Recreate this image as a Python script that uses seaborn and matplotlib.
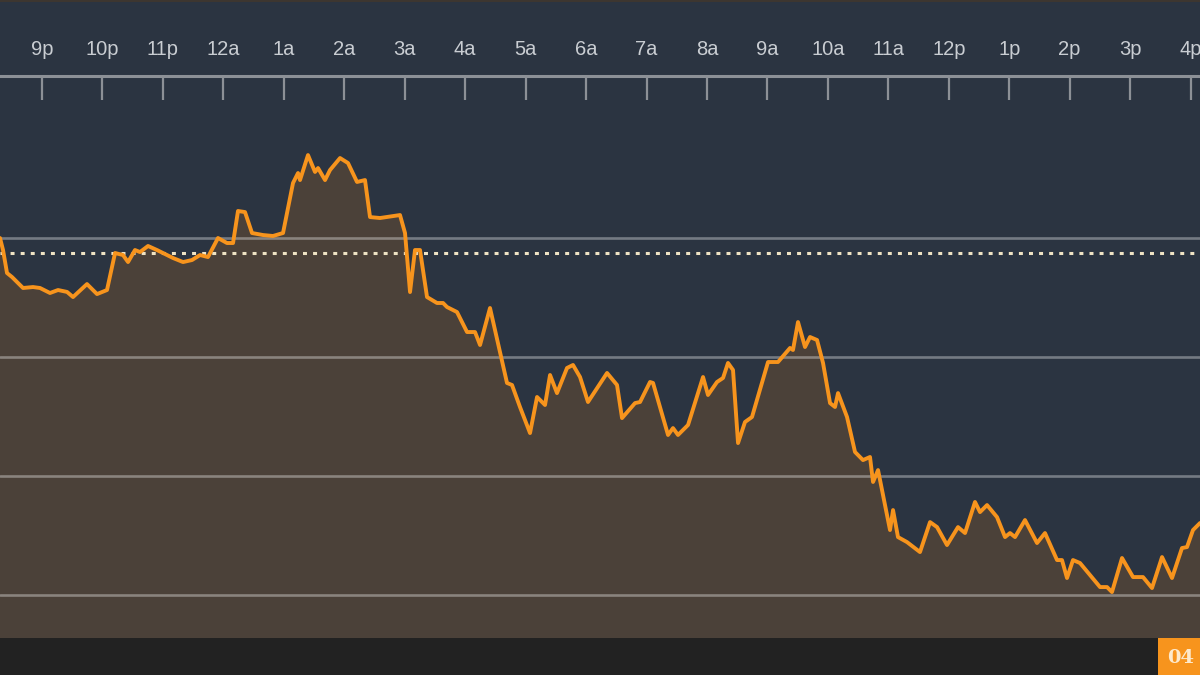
import numpy as np
import pandas as pd
import matplotlib
matplotlib.use("Agg")
import matplotlib.pyplot as plt
import seaborn as sns
from matplotlib.patches import Rectangle

# ==========================================
# DATA (hours after 9p, price level)
# ==========================================

hours = [
    -0.695, -0.645, -0.579, -0.496, -0.314, -0.149, -0.033, 0.132, 0.265, 0.414,
    0.513, 0.744, 0.910, 1.075, 1.208, 1.340, 1.423, 1.538, 1.621, 1.754,
    1.902, 2.068, 2.167, 2.333, 2.481, 2.614, 2.746, 2.911, 3.060, 3.160,
    3.242, 3.358, 3.474, 3.656, 3.821, 3.987, 4.152, 4.235, 4.268, 4.400,
    4.516, 4.566, 4.682, 4.764, 4.930, 5.062, 5.211, 5.343, 5.426, 5.591,
    5.922, 6.005, 6.088, 6.170, 6.253, 6.369, 6.534, 6.634, 6.700, 6.865,
    7.031, 7.163, 7.246, 7.411, 7.692, 7.775, 7.907, 8.073, 8.189, 8.321,
    8.404, 8.519, 8.685, 8.784, 8.900, 9.032, 9.347, 9.512, 9.595, 9.810,
    9.893, 10.058, 10.108, 10.356, 10.438, 10.521, 10.687, 10.935, 11.017, 11.166,
    11.266, 11.348, 11.431, 11.514, 11.629, 11.745, 12.010, 12.175, 12.374, 12.423,
    12.506, 12.622, 12.705, 12.821, 12.920, 13.036, 13.118, 13.168, 13.317, 13.449,
    13.581, 13.697, 13.747, 13.830, 14.028, 14.078, 14.160, 14.309, 14.524, 14.690,
    14.806, 14.971, 15.153, 15.269, 15.434, 15.517, 15.633, 15.798, 15.931, 16.013,
    16.096, 16.261, 16.460, 16.592, 16.791, 16.873, 16.956, 17.055, 17.171, 17.502,
    17.618, 17.700, 17.866, 18.048, 18.213, 18.362, 18.528, 18.693, 18.858, 18.941,
    19.040, 19.156,
]

price = [
    40.00, 38.99, 37.06, 36.72, 35.80, 35.88, 35.80, 35.38, 35.63, 35.47,
    35.04, 36.13, 35.29, 35.63, 38.74, 38.57, 37.98, 38.99, 38.82, 39.33,
    38.99, 38.57, 38.32, 37.98, 38.15, 38.57, 38.40, 40.00, 39.58, 39.58,
    42.27, 42.18, 40.42, 40.25, 40.17, 40.42, 44.62, 45.46, 44.87, 46.97,
    45.55, 45.88, 44.87, 45.71, 46.72, 46.30, 44.71, 44.87, 41.76, 41.68,
    41.93, 40.42, 35.46, 38.99, 38.99, 35.04, 34.54, 34.54, 34.20, 33.78,
    32.10, 32.10, 31.01, 34.12, 27.82, 27.65, 25.80, 23.61, 26.64, 25.97,
    28.49, 26.97, 29.08, 29.33, 28.32, 26.22, 28.66, 27.65, 24.87, 26.13,
    26.22, 27.90, 27.82, 23.45, 24.03, 23.45, 24.29, 28.32, 26.81, 27.90,
    28.24, 29.50, 28.91, 22.77, 24.54, 24.96, 29.58, 29.58, 30.76, 30.59,
    32.94, 30.84, 31.68, 31.43, 29.50, 26.13, 25.80, 26.97, 24.96, 22.02,
    21.34, 21.60, 19.50, 20.50, 15.46, 17.14, 14.87, 14.45, 13.61, 16.13,
    15.71, 14.20, 15.71, 15.21, 17.82, 16.97, 17.56, 16.55, 14.87, 15.21,
    14.87, 16.30, 14.37, 15.21, 12.94, 12.94, 11.43, 12.94, 12.69, 10.67,
    10.67, 10.25, 13.11, 11.51, 11.51, 10.59, 13.19, 11.43, 13.95, 14.03,
    15.46, 16.05,
]

tick_hours = list(range(20))
tick_labels = ["9p", "10p", "11p", "12a", "1a", "2a", "3a", "4a", "5a", "6a",
               "7a", "8a", "9a", "10a", "11a", "12p", "1p", "2p", "3p", "4p"]

grid_levels = [10, 20, 30, 40]
prev_close = 38.74
badge_text = "04"

df = pd.DataFrame({"hour": hours, "price": price})

# ==========================================
# STYLE
# ==========================================

navy = "#2b3441"
fill_col = "#4b4139"
orange = "#f7941d"

sns.set_theme(style="dark", rc={"axes.facecolor": navy, "figure.facecolor": navy})
plt.rcParams["font.family"] = ["Liberation Sans", "DejaVu Sans"]

fig = plt.figure(figsize=(12, 6.75), dpi=100)

xmin, xmax = -0.695, 19.156

# ==========================================
# MAIN CHART
# ==========================================

ax = fig.add_axes([0, 37 / 675, 1, 638 / 675])
ax.set_facecolor(navy)

ax.fill_between(df["hour"], df["price"], 0, color=fill_col, zorder=1, linewidth=0)

for lvl in grid_levels:
    ax.axhline(lvl, color="white", alpha=0.35, lw=1.9, zorder=2)

ax.axhline(prev_close, color="#efe3c4", lw=2.2, linestyle=(0, (1.3, 2.0)), zorder=3)

sns.lineplot(data=df, x="hour", y="price", ax=ax, color=orange, lw=2.8,
             zorder=4, sort=False, solid_joinstyle="round", solid_capstyle="round")

ax.set_xlim(xmin, xmax)
ax.set_ylim(6.39, 60)
ax.set_xticks([])
ax.set_yticks([])
ax.set_xlabel("")
ax.set_ylabel("")
for s in ax.spines.values():
    s.set_visible(False)

# thin brown strip at very top
ax.axhspan(59.8, 60, color="#3d3630", zorder=5, lw=0)

# ==========================================
# TIME SCALE
# ==========================================

ax_t = fig.add_axes([0, (675 - 100) / 675, 1, 24 / 675])
ax_t.patch.set_alpha(0)
ax_t.set_xlim(xmin, xmax)
ax_t.set_ylim(0, 1)
ax_t.set_yticks([])
for name, s in ax_t.spines.items():
    s.set_visible(name == "top")
ax_t.spines["top"].set_color("#8c9096")
ax_t.spines["top"].set_linewidth(2.2)
ax_t.xaxis.tick_top()
ax_t.set_xticks(tick_hours)
ax_t.set_xticklabels(tick_labels)
ax_t.tick_params(axis="x", direction="in", length=17, width=1.6, color="#8c9096",
                 pad=12, labelsize=14.5, labelcolor="#c9cdd2", top=True, bottom=False)

# ==========================================
# BOTTOM BAR
# ==========================================

ax_b = fig.add_axes([0, 0, 1, 37 / 675])
ax_b.set_facecolor("#222222")
ax_b.set_xlim(0, 1)
ax_b.set_ylim(0, 1)
ax_b.set_xticks([])
ax_b.set_yticks([])
for s in ax_b.spines.values():
    s.set_visible(False)
ax_b.add_patch(Rectangle((1158 / 1200, 0), 1, 1, color=orange, lw=0))
ax_b.text(1167 / 1200, 0.45, badge_text, color="#fde9cc", fontsize=14,
          fontweight="bold", ha="left", va="center", family=["DejaVu Serif"])

fig.savefig("out.png", dpi=100, facecolor=navy)
